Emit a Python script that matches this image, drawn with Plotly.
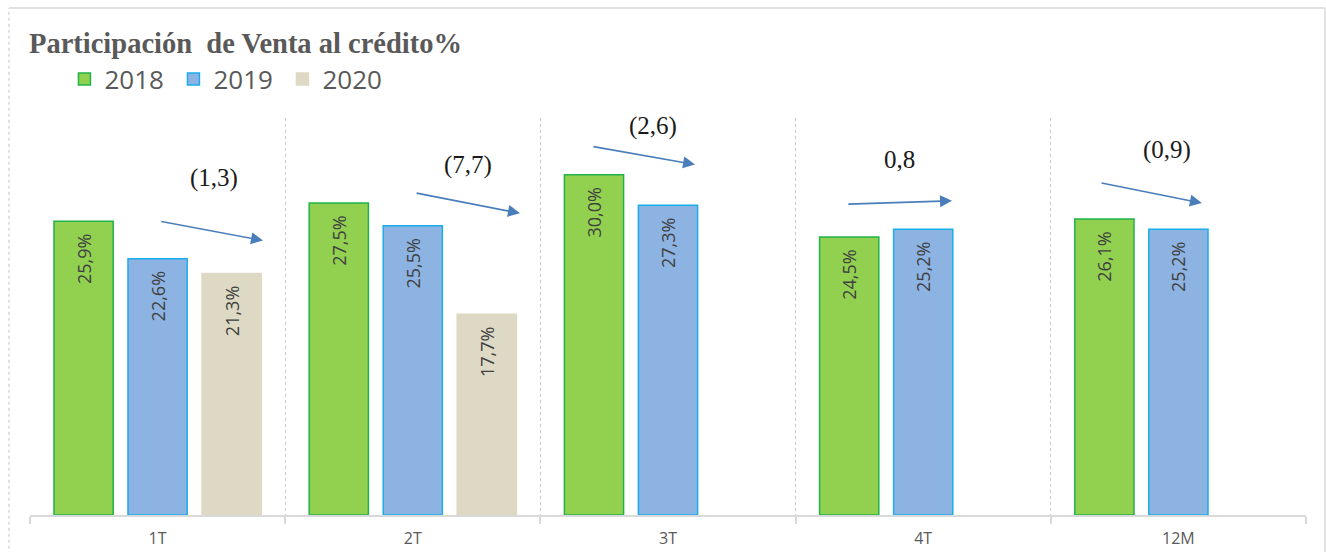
import plotly.graph_objects as go

# Quarterly share of credit sales (%) by year
categories = ["1T", "2T", "3T", "4T", "12M"]
years = ["2018", "2019", "2020"]
v2018 = [25.9, 27.5, 30.0, 24.5, 26.1]
v2019 = [22.6, 25.5, 27.3, 25.2, 25.2]
v2020 = [21.3, 17.7, None, None, None]

# Year-on-year change notes shown above each group
change_labels = ["(1,3)", "(7,7)", "(2,6)", "0,8", "(0,9)"]
# arrow tail/head and label anchor, in axis units
arrow_tail_x = [0.009, 1.009, 1.702, 2.701, 3.693]
arrow_tail_y = [25.9, 28.4, 32.5, 27.4, 29.3]
arrow_head_x = [0.413, 1.420, 2.106, 3.113, 4.092]
arrow_head_y = [24.2, 26.6, 30.9, 27.7, 27.5]
label_x = [0.221, 1.216, 1.941, 2.909, 3.955]
label_y = [29.7, 30.9, 34.3, 31.3, 32.2]

fills = ["#92D050", "#8DB3E2", "#DDD9C4"]
borders = ["#1FB34A", "#1AADEB", "#DDD9C4"]
series = [v2018, v2019, v2020]

xpos = list(range(len(categories)))
NBSP = "\u00a0"


def fmt(v):
    if v is None:
        return ""
    # trailing gap keeps the label a little below the bar end
    return f"{v:.1f}%".replace(".", ",") + NBSP * 2


fig = go.Figure()
for name, vals, fc, bc in zip(years, series, fills, borders):
    fig.add_trace(go.Bar(
        name=name,
        x=xpos,
        y=vals,
        text=[fmt(v) for v in vals],
        textposition="inside",
        insidetextanchor="end",
        textangle=-90,
        textfont=dict(family="Open Sans", size=18, color="#404040"),
        marker=dict(color=fc, line=dict(color=bc, width=1.5)),
        hoverinfo="skip",
    ))

for txt, tx, ty, hx, hy, lx, ly in zip(change_labels, arrow_tail_x, arrow_tail_y,
                                         arrow_head_x, arrow_head_y, label_x, label_y):
    fig.add_annotation(
        x=hx, y=hy, ax=tx, ay=ty, xref="x", yref="y", axref="x", ayref="y",
        text="", showarrow=True, arrowhead=2, arrowsize=1.5, arrowwidth=1.6,
        arrowcolor="#4A7EBB", standoff=0, startstandoff=0,
    )
    fig.add_annotation(
        x=lx, y=ly, xref="x", yref="y", text=txt, showarrow=False,
        font=dict(family="Liberation Serif", size=25, color="#1A1A1A"),
    )

# outer chart frame
frame_color = "#D9D9D9"
fig.add_shape(type="line", xref="paper", yref="paper", x0=-0.0165, x1=1.0149,
              y0=1.277, y1=1.277, line=dict(color=frame_color, width=1.5))
fig.add_shape(type="line", xref="paper", yref="paper", x0=-0.0165, x1=-0.0165,
              y0=-0.1, y1=1.277, line=dict(color=frame_color, width=1.5, dash="dot"))
fig.add_shape(type="line", xref="paper", yref="paper", x0=1.0149, x1=1.0149,
              y0=-0.1, y1=1.277, line=dict(color=frame_color, width=1.5))

fig.update_layout(
    width=1326, height=552,
    margin=dict(l=30, r=20, t=118, b=37),
    paper_bgcolor="white", plot_bgcolor="white",
    barmode="group", bargap=0.13, bargroupgap=0.2,
    uniformtext=dict(minsize=18, mode="show"),
    title=dict(
        text="<b>Participación  de Venta al crédito%</b>",
        x=29 / 1326, xanchor="left", xref="container",
        y=1 - 43 / 552, yanchor="middle", yref="container",
        font=dict(family="Liberation Serif", size=28.5, color="#595959"),
    ),
    legend=dict(
        orientation="h", x=0.027, xanchor="left", y=1.098, yanchor="middle",
        font=dict(family="Open Sans", size=26, color="#595959"),
        bgcolor="rgba(0,0,0,0)", traceorder="normal",
        entrywidth=64, entrywidthmode="pixels",
    ),
    xaxis=dict(
        range=[-0.5, 4.5], tickmode="array", tickvals=xpos, ticktext=categories,
        showgrid=False, zeroline=False, ticks="", ticklabelstandoff=8,
        automargin=False,
        tickfont=dict(family="Open Sans", size=16, color="#595959"),
        showline=True, linecolor="#D9D9D9", linewidth=1.5,
        minor=dict(tickmode="linear", tick0=-0.5, dtick=1, showgrid=True,
                   gridcolor="#C8C8C8", griddash="dot", gridwidth=1,
                   ticks="outside", ticklen=7, tickcolor="#D9D9D9", tickwidth=1.5),
    ),
    yaxis=dict(range=[0, 35], visible=False, showgrid=False, zeroline=False),
    showlegend=True,
)

fig.write_html("out.html")
